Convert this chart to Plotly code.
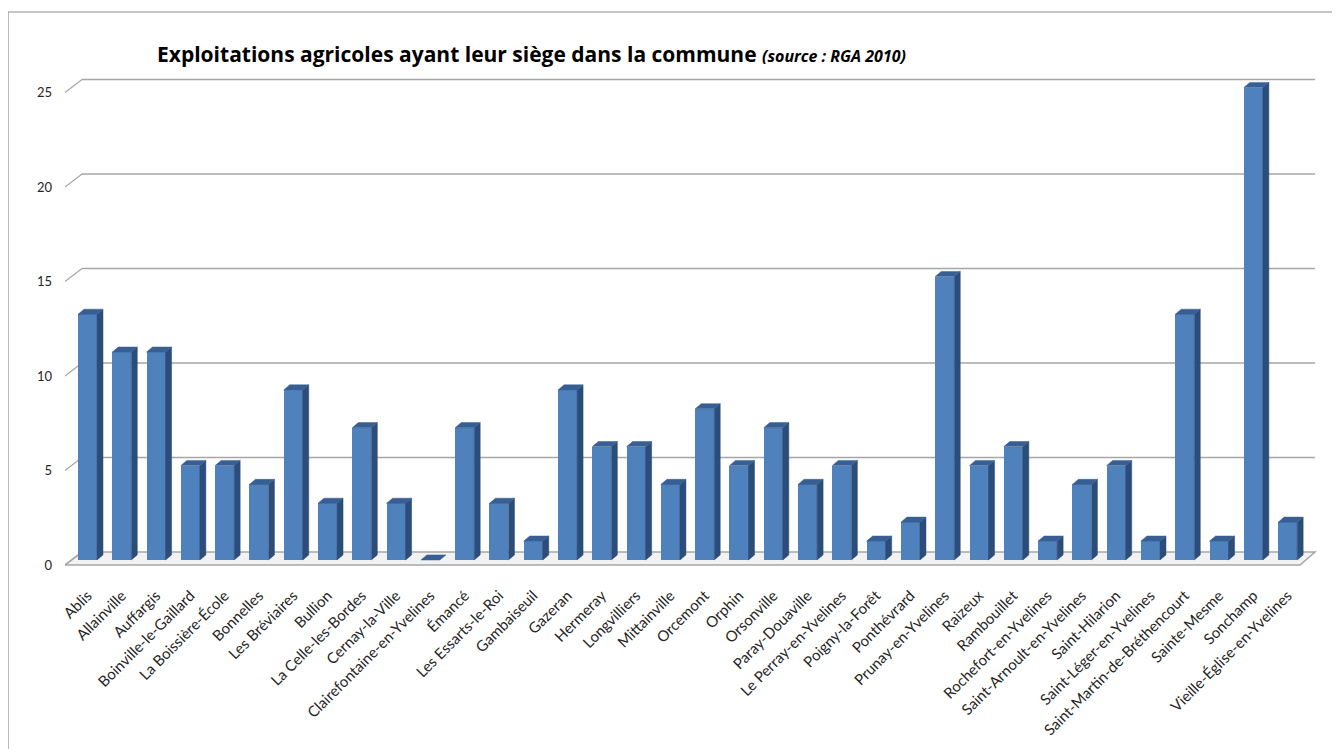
import plotly.graph_objects as go

communes = [
    "Ablis", "Allainville", "Auffargis", "Boinville-le-Gaillard", "La Boissière-École",
    "Bonnelles", "Les Bréviaires", "Bullion", "La Celle-les-Bordes", "Cernay-la-Ville",
    "Clairefontaine-en-Yvelines", "Émancé", "Les Essarts-le-Roi", "Gambaiseuil", "Gazeran",
    "Hermeray", "Longvilliers", "Mittainville", "Orcemont", "Orphin", "Orsonville",
    "Paray-Douaville", "Le Perray-en-Yvelines", "Poigny-la-Forêt", "Ponthévrard",
    "Prunay-en-Yvelines", "Raizeux", "Rambouillet", "Rochefort-en-Yvelines",
    "Saint-Arnoult-en-Yvelines", "Saint-Hilarion", "Saint-Léger-en-Yvelines",
    "Saint-Martin-de-Bréthencourt", "Sainte-Mesme", "Sonchamp", "Vieille-Église-en-Yvelines",
]
exploitations = [13, 11, 11, 5, 5, 4, 9, 3, 7, 3, 0, 7, 3, 1, 9, 6, 6, 4, 8, 5, 7,
                 4, 5, 1, 2, 15, 5, 6, 1, 4, 5, 1, 13, 1, 25, 2]
y_ticks = [0, 5, 10, 15, 20, 25]

title_main = "Exploitations agricoles ayant leur siège dans la commune"
title_source = "(source : RGA 2010)"

FRONT = "#4F81BD"
SIDE = "#2C4D7A"
TOP = "#385F93"
GRID = "#A6A6A6"

# figure geometry (page is offset by the 8px body margin)
W, H = 1332, 741
ML, MT = 57, 62
PW, PH = 1253, 500
PX_X = 34.29   # px per category
PX_Y = 18.9    # px per unit

n = len(communes)
xs = list(range(n))
w = 0.555      # bar width (category units)
dx = 0.175     # depth offset of bar (x)
dy = 0.27      # depth offset of bar (y)
bx0 = -0.16    # back wall left x
fx0 = -0.656   # front left x
bdy = 0.42     # back plane y offset
fdy = -0.265   # front plane y offset
x_right_back = 35.8
x_right_front = 35.36

# side and top faces computed from data
side_x, side_y, top_x, top_y = [], [], [], []
for i, v in zip(xs, exploitations):
    r = i + w / 2
    l = i - w / 2
    if v > 0:
        side_x += [r, r + dx, r + dx, r, r, None]
        side_y += [0, dy, v + dy, v, 0, None]
    top_x += [l, l + dx, r + dx, r, l, None]
    top_y += [v, v + dy, v + dy, v, v, None]

fig = go.Figure()

fig.add_trace(go.Bar(
    x=xs, y=exploitations, width=w,
    marker=dict(color=FRONT, line=dict(width=0)),
    hovertemplate="%{customdata}: %{y}<extra></extra>",
    customdata=communes,
    showlegend=False,
))
fig.add_trace(go.Scatter(
    x=side_x, y=side_y, mode="lines", fill="toself",
    fillcolor=SIDE, line=dict(color=SIDE, width=0.5),
    hoverinfo="skip", showlegend=False,
))
fig.add_trace(go.Scatter(
    x=top_x, y=top_y, mode="lines", fill="toself",
    fillcolor=TOP, line=dict(color=TOP, width=0.5),
    hoverinfo="skip", showlegend=False,
))

shapes = []
# floor
shapes.append(dict(
    type="path", xref="x", yref="y", layer="below",
    path=(f"M {fx0},{fdy} L {x_right_front},{fdy} L {x_right_back},{bdy} "
          f"L {bx0},{bdy} Z"),
    fillcolor="#F2F2F2", line=dict(color=GRID, width=1.5),
))
for t in y_ticks:
    if t > 0:
        shapes.append(dict(type="line", xref="x", yref="y", layer="below",
                           x0=bx0, y0=t + bdy, x1=x_right_back, y1=t + bdy,
                           line=dict(color=GRID, width=1.5)))
    shapes.append(dict(type="line", xref="x", yref="y", layer="below",
                       x0=fx0, y0=t + fdy, x1=bx0, y1=t + bdy,
                       line=dict(color=GRID, width=1.2)))

# outer frame of the chart area (left and top edges visible)
shapes.append(dict(type="rect", xref="paper", yref="paper", layer="below",
                   x0=(0 - ML) / PW, x1=(W + 30 - ML) / PW,
                   y0=(MT + PH - (H + 30)) / PH, y1=(MT + PH - 4) / PH,
                   line=dict(color="#8C8C8C", width=1.2), fillcolor="rgba(0,0,0,0)"))

fig.update_layout(
    width=W, height=H,
    margin=dict(l=ML, r=W - ML - PW, t=MT, b=H - MT - PH),
    paper_bgcolor="white", plot_bgcolor="rgba(0,0,0,0)",
    font=dict(family="Lato, Carlito, Calibri, sans-serif", color="#262626", size=13),
    shapes=shapes,
    bargap=0,
    title=dict(
        text=(f"<b>{title_main}</b> "
              f"<b><i><span style='font-size:16px'>{title_source}</span></i></b>"),
        font=dict(family="Open Sans, sans-serif", size=21, color="#000000"),
        x=149 / W, xanchor="left", xref="container",
        yref="container", y=1 - 47 / H, yanchor="middle",
    ),
    xaxis=dict(
        range=[fx0, fx0 + PW / PX_X],
        tickmode="array", tickvals=xs, ticktext=communes,
        tickangle=-45, showgrid=False, zeroline=False, showline=False,
        ticks="", tickfont=dict(size=15, color="#262626"),
        ticklabelstandoff=13,
        fixedrange=True, automargin=False,
    ),
    yaxis=dict(
        range=[-10 / PX_Y, -10 / PX_Y + PH / PX_Y],
        tickmode="array", tickvals=y_ticks,
        showgrid=False, zeroline=False, showline=False, ticks="",
        tickfont=dict(size=13, color="#262626"),
        ticklabelstandoff=12, ticklabelshift=5,
        fixedrange=True, automargin=False,
    ),
)

fig.write_html("out.html")
